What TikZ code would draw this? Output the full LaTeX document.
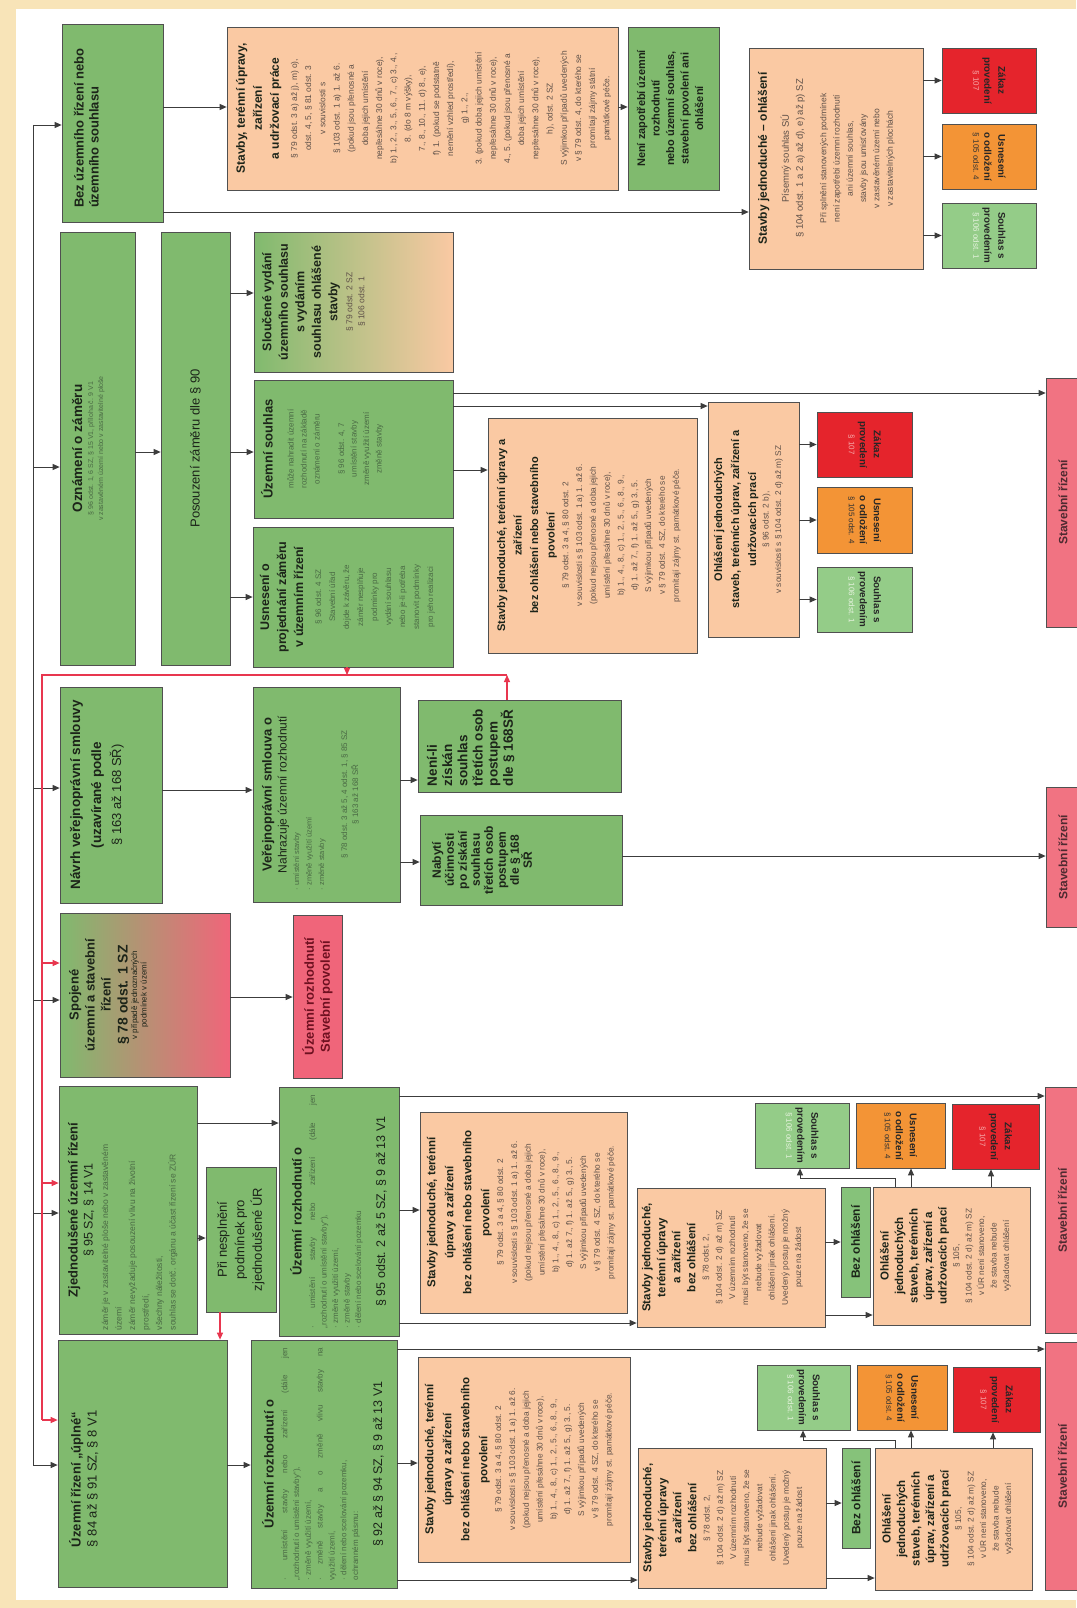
\documentclass[tikz,border=0pt]{standalone}
\usepackage{fontspec}
\setmainfont{Liberation Sans}
\usetikzlibrary{arrows.meta}

\definecolor{pagebg}{HTML}{F8E4B8}
\definecolor{grnfill}{HTML}{80BA6E}
\definecolor{bzofill}{HTML}{86C27A}
\definecolor{ornfill}{HTML}{FAC9A3}
\definecolor{pnkfill}{HTML}{F17382}
\definecolor{urpfill}{HTML}{F0657A}
\definecolor{zakfill}{HTML}{E5242C}
\definecolor{usxfill}{HTML}{F39436}
\definecolor{soufill}{HTML}{94CC88}
\definecolor{yelmid}{HTML}{E2E37E}
\definecolor{orgmid}{HTML}{EDE36A}
\definecolor{bxline}{HTML}{505050}
\definecolor{lnc}{HTML}{3C3C3C}
\definecolor{rdln}{HTML}{E8364F}
\definecolor{hdc}{HTML}{1C2419}
\definecolor{gtx}{HTML}{4A6A44}
\definecolor{otx}{HTML}{5E5048}
\definecolor{ptx}{HTML}{6E1020}
\definecolor{srtx}{HTML}{4E2A30}
\definecolor{zakref}{HTML}{F6A9A9}
\definecolor{souref}{HTML}{E6F3DE}

\newcommand\jst{\leftskip=4pt\rightskip=4pt\parfillskip=0pt plus 1fil\relax}

% one box: [valign]{style}{name}{x0}{y0}{x1}{y1}{text}, page pixels, y down
\newcommand\flbox[8][t]{%
  \node[#2, minimum width={(#7-#5)*1pt}, minimum height={(#6-#4)*1pt}]
    (#3) at ({(#4+#6)/2},{(#5+#7)/2})
    {\begin{minipage}[c][\dimexpr#6pt-#4pt-6pt\relax][#1]{\dimexpr#7pt-#5pt-8pt\relax}%
      \centering\color{hdc}#8\par\end{minipage}};}

% texts that repeat
\newcommand\sjbody{{\fontsize{8.3}{13.8}\selectfont\color{otx}
  § 79 odst. 3 a 4, § 80 odst. 2\\v souvislosti s § 103 odst. 1 a) 1. až 6.\\
  (pokud nejsou přenosné a doba jejich\\umístění přesáhne 30 dnů v roce),\\
  b) 1., 4., 8., c) 1., 2., 5., 6., 8., 9.,\\d) 1. až 7., f) 1. až 5., g) 3., 5.\\
  S výjimkou případů uvedených\\v § 79 odst. 4 SZ, do kterého se\\
  promítají zájmy st. památkové péče.\par}}
\newcommand\sjlow{\vspace*{4pt}{\fontsize{11.5}{18}\selectfont\bfseries
  Stavby jednoduché, terénní\\úpravy a zařízení\\bez ohlášení nebo stavebního\\povolení\par}\sjbody}
\newcommand\sbtext{\vspace*{2pt}{\fontsize{11.5}{15}\selectfont\bfseries
  Stavby jednoduché,\\terénní úpravy\\a zařízení\\bez ohlášení\par}
  {\fontsize{8.3}{13.2}\selectfont\color{otx} § 78 odst. 2,\\§ 104 odst. 2 d) až m) SZ\\
  V územním rozhodnutí\\musí být stanoveno, že se\\nebude vyžadovat\\
  ohlášení jinak ohlášení.\\Uvedený postup je možný\\pouze na žádost\par}}
\newcommand\ohtext{\vspace*{4pt}{\fontsize{11.5}{14.5}\selectfont\bfseries
  Ohlášení\\jednoduchých\\staveb, terénních\\úprav, zařízení a\\udržovacích prací\par}
  {\fontsize{8.3}{12.5}\selectfont\color{otx} § 105,\\§ 104 odst. 2 d) až m) SZ\\
  v ÚR není stanoveno,\\že stavba nebude\\vyžadovat ohlášení\par}}
\newcommand\zaktext{{\fontsize{9.8}{14}\selectfont\bfseries\color{black!85} Zákaz\\provedení\par}
  {\fontsize{8}{11}\selectfont\color{zakref} § 107\par}}
\newcommand\usxtext{{\fontsize{9.8}{14}\selectfont\bfseries\color{black!85} Usnesení\\o odložení\par}
  {\fontsize{8}{11}\selectfont\color{black!80} § 105 odst. 4\par}}
\newcommand\soutext{{\fontsize{9.8}{14}\selectfont\bfseries\color{black!85} Souhlas s\\provedením\par}
  {\fontsize{8}{11}\selectfont\color{souref} § 106 odst. 1\par}}
\newcommand\srtext{\fontsize{12}{14}\selectfont\bfseries\color{srtx} Stavební řízení}

\begin{document}
\begin{tikzpicture}[x=1pt,y=-1pt,
  bx/.style={draw=bxline,line width=0.7pt,inner sep=0pt,rotate=90},
  grn/.style={bx,fill=grnfill},
  bzo/.style={bx,fill=bzofill},
  orn/.style={bx,fill=ornfill},
  pnk/.style={bx,fill=pnkfill},
  urp/.style={bx,fill=urpfill},
  slos/.style={bx,left color=grnfill,middle color=yelmid,right color=ornfill},
  spos/.style={bx,left color=grnfill,middle color=orgmid,right color=urpfill},
  flip/.style={draw=bxline,line width=0.7pt,inner sep=0pt,rotate=-90},
  zak/.style={flip,fill=zakfill},
  usx/.style={flip,fill=usxfill},
  sou/.style={flip,fill=soufill},
  ln/.style={draw=lnc,line width=0.9pt},
  arr/.style={ln,-{Triangle[length=7pt,width=6pt]}},
  rdl/.style={draw=rdln,line width=1.1pt},
  rarr/.style={rdl,-{Triangle[length=7pt,width=6pt]}}]

  \useasboundingbox (0,0) rectangle (1076,1608);
  \fill[pagebg] (0,0) rectangle (1076,1608);
  \fill[white] (16,9) rectangle (1076,1600);

  % ---------------- first column
  \flbox{grn}{bez}{62}{24}{163}{222}{\raggedright\leftskip=10pt\vspace*{9pt}%
    \fontsize{13}{15}\selectfont\bfseries Bez územního řízení nebo\\územního souhlasu}
  \flbox{grn}{ozn}{60}{232}{135}{665}{\vspace*{9pt}%
    {\fontsize{13.5}{16}\selectfont\bfseries Oznámení o záměru\par}\vspace{1pt}%
    {\fontsize{7}{10}\selectfont\color{gtx} § 96 odst. 1, 6 SZ, § 15 V1, příloha č. 9 V1\\
     v zastavěném území nebo v zastavitelné ploše\par}}
  \flbox{grn}{nav}{60}{687}{162}{903}{\vspace*{7pt}%
    {\fontsize{13.5}{21}\selectfont\bfseries Návrh veřejnoprávní smlouvy\\(uzavírané podle\par}
    {\fontsize{13}{20}\selectfont § 163 až 168 SŘ)\par}}
  \flbox{spos}{spo}{60}{913}{230}{1077}{\vspace*{6pt}%
    {\fontsize{13}{16}\selectfont\bfseries Spojené\\územní a stavební\\řízení\par}
    {\fontsize{14}{17}\selectfont\bfseries § 78 odst. 1 SZ\par}
    {\fontsize{8}{9.5}\selectfont v případě jednoznačných\\podmínek v území\par}}
  \flbox{grn}{zjd}{59}{1086}{197}{1334}{\vspace*{6pt}%
    {\fontsize{13}{16}\selectfont\bfseries Zjednodušené územní řízení\par}
    {\fontsize{12.5}{15}\selectfont § 95 SZ, § 14 V1\par}\vspace{2pt}
    {\fontsize{8.5}{13.5}\selectfont\color{gtx}\raggedright
     záměr je v zastavitelné ploše nebo v zastavěném\\území\\
     záměr nevyžaduje posouzení vlivu na životní\\prostředí,\\
     všechny náležitosti,\\souhlas se dotč. orgánu a účast řízení se ZÚR\par}}
  \flbox{grn}{urz}{58}{1340}{227}{1587}{\raggedright\leftskip=36pt\vspace*{8pt}%
    {\fontsize{13}{16}\selectfont\bfseries Územní řízení „úplné“\par}
    {\fontsize{13}{16}\selectfont § 84 až § 91 SZ, § 8 V1\par}}

  % ---------------- second column
  \flbox[c]{grn}{pos}{161}{232}{230}{665}{\fontsize{13}{16}\selectfont Posouzení záměru dle § 90}
  \flbox[c]{grn}{pri}{206}{1167}{276}{1312}{\fontsize{13}{17.5}\selectfont
    Při nesplnění\\podmínek pro\\zjednodušené ÚR}
  \flbox{orn}{sta}{227}{27}{618}{190}{\vspace*{6pt}%
    {\fontsize{12}{17}\selectfont\bfseries Stavby, terénní úpravy,\\zařízení\\a udržovací práce\par}\vspace{4pt}
    {\fontsize{8.4}{14.2}\selectfont\color{otx}
     § 79 odst. 3 a) až j), m) o),\\odst. 4, 5, § 81 odst. 3\\v souvislosti s\\
     § 103 odst. 1 a) 1. až 6.\\(pokud jsou přenosné a\\doba jejich umístění\\
     nepřesáhne 30 dnů v roce),\\b) 1., 2., 3., 5., 6., 7., c) 3., 4.,\\
     8. (do 8 m výšky),\\7., 8., 10., 11. d) 8., e),\\f) 1. (pokud se podstatně\\
     nemění vzhled prostředí),\\g) 1., 2.,\\3. (pokud doba jejich umístění\\
     nepřesáhne 30 dnů v roce),\\4., 5. (pokud jsou přenosné a\\doba jejich umístění\\
     nepřesáhne 30 dnů v roce),\\h), odst. 2 SZ\\S výjimkou případů uvedených\\
     v § 79 odst. 4, do kterého se\\promítají zájmy státní\\památkové péče.\par}}
  \flbox{slos}{slo}{254}{232}{453}{372}{\vspace*{5pt}%
    {\fontsize{12.5}{16.5}\selectfont\bfseries Sloučené vydání\\územního souhlasu\\s vydáním\\
     souhlasu ohlášené\\stavby\par}\vspace{3pt}
    {\fontsize{8.5}{12}\selectfont\color{otx} § 79 odst. 2 SZ\\§ 106 odst. 1\par}}
  \flbox{grn}{uso}{254}{380}{453}{518}{\vspace*{4pt}%
    {\fontsize{13}{16}\selectfont\bfseries Územní souhlas\par}\vspace{8pt}
    {\fontsize{8}{13}\selectfont\color{gtx} může nahradit územní\\rozhodnutí na základě\\oznámení o záměru\par}
    \vspace{12pt}
    {\fontsize{8}{12.5}\selectfont\color{gtx} § 96 odst. 4, 7\\umístění stavby\\změně využití území\\změně stavby\par}}
  \flbox{grn}{usn}{253}{527}{453}{667}{\vspace*{4pt}%
    {\fontsize{12.5}{17}\selectfont\bfseries Usnesení o\\projednání záměru\\v územním řízení\par}\vspace{4pt}
    {\fontsize{8}{14}\selectfont\color{gtx} § 96 odst. 4 SZ\\Stavební úřad\\dojde k závěru, že\\
     záměr nesplňuje\\podmínky pro\\vydání souhlasu\\nebo je-li potřeba\\stanovit podmínky\\
     pro jeho realizaci\par}}
  \flbox{grn}{vps}{253}{687}{400}{902}{\vspace*{6pt}%
    {\fontsize{13}{16}\selectfont\bfseries Veřejnoprávní smlouva o\par}
    {\fontsize{12}{15}\selectfont Nahrazuje územní rozhodnutí\par}
    {\fontsize{7.5}{12.5}\selectfont\color{gtx}\raggedright\leftskip=8pt
     · umístění stavby\\· změně využití území\\· změně stavby\par}\vspace{12pt}
    {\fontsize{8}{11}\selectfont\color{gtx} § 78 odst. 3 až 5, 4 odst. 1, § 85 SZ\\§ 163 až 168 SŘ\par}}
  \flbox[c]{urp}{urp}{293}{915}{342}{1078}{\fontsize{13}{16}\selectfont\bfseries\color{ptx}
    Územní rozhodnutí\\Stavební povolení}
  \flbox{grn}{urB}{279}{1087}{399}{1336}{\vspace*{8pt}%
    {\fontsize{13}{15}\selectfont\bfseries Územní rozhodnutí o\par}\vspace{2pt}
    {\fontsize{8}{11.5}\selectfont\color{gtx}\jst
     · umístění stavby nebo zařízení (dále jen\linebreak „rozhodnutí o umístění stavby“),\\
     · změně využití území,\\· změně stavby\\· dělení nebo scelování pozemku\par}\vspace{9pt}
    {\fontsize{12.5}{15}\selectfont § 95 odst. 2 až 5 SZ, § 9 až 13 V1\par}}
  \flbox{grn}{urA}{251}{1340}{397}{1588}{\vspace*{8pt}%
    {\fontsize{13}{15}\selectfont\bfseries Územní rozhodnutí o\par}\vspace{2pt}
    {\fontsize{8}{11.8}\selectfont\color{gtx}\jst
     · umístění stavby nebo zařízení (dále jen\linebreak „rozhodnutí o umístění stavby“),\\
     · změně využití území,\\· změně stavby a o změně vlivu stavby na\linebreak využití území,\\
     · dělení nebo scelování pozemku,\\ochranném pásmu:\par}\vspace{9pt}
    {\fontsize{12.5}{15}\selectfont § 92 až § 94 SZ, § 9 až 13 V1\par}}

  % ---------------- third column
  \flbox{grn}{nen}{418}{700}{621}{792}{\raggedright\leftskip=2pt\vspace*{6pt}%
    \fontsize{13.5}{15.2}\selectfont\bfseries Není-li\\získán\\souhlas\\třetích osob\\postupem\\dle § 168SŘ}
  \flbox{grn}{nab}{420}{815}{622}{905}{\vspace*{9pt}%
    \fontsize{12}{13}\selectfont\bfseries Nabytí\\účinnosti\\po získání\\souhlasu\\třetích osob\\postupem\\
    dle § 168\\SŘ}
  \flbox{orn}{sjm}{488}{418}{697}{653}{\vspace*{6pt}%
    {\fontsize{11}{16.5}\selectfont\bfseries Stavby jednoduché, terénní úpravy a\\zařízení\\
     bez ohlášení nebo stavebního\\povolení\par}\sjbody}
  \flbox{orn}{sjB}{420}{1112}{627}{1313}{\sjlow}
  \flbox{orn}{sjA}{418}{1357}{630}{1562}{\sjlow}
  \flbox{grn}{nez}{628}{27}{719}{190}{\vspace*{6pt}%
    \fontsize{11}{14.5}\selectfont\bfseries Není zapotřebí územní\\rozhodnutí\\nebo územní souhlas,\\
    stavební povolení ani\\ohlášení}
  \flbox{orn}{sbB}{637}{1188}{825}{1327}{\sbtext}
  \flbox{orn}{sbA}{638}{1448}{826}{1588}{\sbtext}

  % ---------------- right part
  \flbox{orn}{ohm}{708}{402}{799}{637}{\vspace*{3pt}%
    {\fontsize{11}{17}\selectfont\bfseries Ohlášení jednoduchých\\staveb, terénních úprav, zařízení a\\
     udržovacích prací\par}
    {\fontsize{8.3}{12.5}\selectfont\color{otx} § 96 odst. 2 b),\\v souvislosti s § 104 odst. 2 d) až m) SZ\par}}
  \flbox{orn}{sjo}{749}{48}{923}{269}{\vspace*{6pt}%
    {\fontsize{12}{15}\selectfont\bfseries Stavby jednoduché – ohlášení\par}\vspace{8pt}
    {\fontsize{9.5}{14}\selectfont\color{otx} Písemný souhlas SÚ\\§ 104 odst. 1 a 2 a) až d), e) až p) SZ\par}
    \vspace{10pt}
    {\fontsize{8.5}{13.3}\selectfont\color{otx} Při splnění stanovených podmínek\\
     není zapotřebí územní rozhodnutí\\ani územní souhlas,\\stavby jsou umisťovány\\
     v zastavěném území nebo\\v zastavitelných plochách\par}}
  \flbox[c]{bzo}{bezB}{841}{1187}{870}{1297}{\fontsize{12}{14}\selectfont\bfseries Bez ohlášení}
  \flbox[c]{bzo}{bezA}{842}{1448}{870}{1548}{\fontsize{12}{14}\selectfont\bfseries Bez ohlášení}
  \flbox{orn}{ohB}{873}{1187}{1030}{1325}{\ohtext}
  \flbox{orn}{ohA}{875}{1448}{1032}{1590}{\ohtext}

  % small result boxes
  \flbox[c]{zak}{zak1}{942}{48}{1036}{113}{\zaktext}
  \flbox[c]{usx}{usx1}{942}{124}{1036}{189}{\usxtext}
  \flbox[c]{sou}{sou1}{942}{203}{1036}{268}{\soutext}
  \flbox[c]{zak}{zak2}{817}{412}{912}{477}{\zaktext}
  \flbox[c]{usx}{usx2}{817}{487}{912}{553}{\usxtext}
  \flbox[c]{sou}{sou2}{817}{567}{912}{632}{\soutext}
  \flbox[c]{sou}{sou3}{755}{1103}{849}{1168}{\soutext}
  \flbox[c]{usx}{usx3}{856}{1103}{945}{1168}{\usxtext}
  \flbox[c]{zak}{zak3}{952}{1104}{1039}{1169}{\zaktext}
  \flbox[c]{sou}{sou4}{757}{1365}{850}{1430}{\soutext}
  \flbox[c]{usx}{usx4}{857}{1365}{947}{1430}{\usxtext}
  \flbox[c]{zak}{zak4}{953}{1367}{1040}{1432}{\zaktext}

  % Stavebni rizeni
  \flbox[c]{pnk}{sr1}{1046}{378}{1080}{627}{\srtext}
  \flbox[c]{pnk}{sr2}{1046}{787}{1080}{927}{\srtext}
  \flbox[c]{pnk}{sr3}{1045}{1087}{1080}{1333}{\srtext}
  \flbox[c]{pnk}{sr4}{1045}{1342}{1080}{1590}{\srtext}

  % ---------------- connectors
  % black bus on the left
  \coordinate (busT) at (33,125);
  \coordinate (busB) at (33,1465);
  \draw[ln] (busT) -- (busB);
  \draw[arr] (busT) -- (bez.north |- busT);
  \draw[arr] (busT |- 0,467) -- (ozn.north |- 0,467);
  \draw[arr] (busT |- 0,788) -- (nav.north |- 0,788);
  \draw[arr] (busT |- 0,1000) -- (spo.north |- 0,1000);
  \draw[arr] (busT |- 0,1213) -- (zjd.north |- 0,1213);
  \draw[arr] (busB) -- (urz.north |- busB);

  % top row
  \draw[arr] (bez.south |- 0,107) -- (sta.north |- 0,107);
  \draw[arr] (sta.south |- 0,107) -- (nez.north |- 0,107);
  \draw[arr] (bez.south |- 0,212) -- (sjo.north |- 0,212);
  \foreach \b in {zak1,usx1,sou1}
    \draw[arr] (sjo.south |- \b) -- (\b.south);

  % oznameni o zameru
  \draw[arr] (ozn.south |- 0,452) -- (pos.north |- 0,452);
  \draw[arr] (pos.south |- 0,293) -- (slo.north |- 0,293);
  \draw[arr] (pos.south |- 0,452) -- (uso.north |- 0,452);
  \draw[arr] (pos.south |- 0,597) -- (usn.north |- 0,597);
  \draw[arr] (uso.south |- 0,393) -- (sr1.north |- 0,393);
  \draw[arr] (uso.south |- 0,406) -- (ohm.north |- 0,406);
  \draw[arr] (uso.south |- 0,470) -- (sjm.north |- 0,470);
  \foreach \b in {zak2,usx2,sou2}
    \draw[arr] (ohm.south |- \b) -- (\b.south);

  % verejnopravni smlouva
  \draw[arr] (nav.south |- 0,790) -- (vps.north |- 0,790);
  \draw[arr] (vps.south |- 0,780) -- (nen.north |- 0,780);
  \draw[arr] (vps.south |- 0,862) -- (nab.north |- 0,862);
  \draw[arr] (nab.south |- 0,856) -- (sr2.north |- 0,856);

  % spojene rizeni
  \draw[arr] (spo.south |- 0,997) -- (urp.north |- 0,997);

  % zjednodusene rizeni
  \draw[arr] (zjd.south |- 0,1123) -- (urB.north |- 0,1123);
  \draw[arr] (zjd.south |- 0,1238) -- (pri.north |- 0,1238);
  \draw[arr] (urB.south |- 0,1096) -- (sr3.north |- 0,1096);
  \draw[arr] (urB.south |- 0,1210) -- (sjB.north |- 0,1210);
  \draw[arr] (urB.south |- 0,1323) -- (sbB.north |- 0,1323);
  \draw[arr] (sbB.south |- 0,1242) -- (bezB.north |- 0,1242);
  \draw[arr] (sbB.south |- 0,1315) -- (ohB.north |- 0,1315);
  \draw[arr] (ohB.east -| 911,0) -- (usx3.east -| 911,0);
  \draw[arr] (ohB.east -| 991,0) -- (zak3.east -| 991,0);
  \draw[arr] (ohB.east -| 895,0) |- (800,1178) -- (sou3.east -| 800,0);

  % uplne rizeni
  \draw[arr] (urz.south |- 0,1465) -- (urA.north |- 0,1465);
  \draw[arr] (urA.south |- 0,1349) -- (sr4.north |- 0,1349);
  \draw[arr] (urA.south |- 0,1463) -- (sjA.north |- 0,1463);
  \draw[arr] (urA.south |- 0,1580) -- (sbA.north |- 0,1580);
  \draw[arr] (sbA.south |- 0,1503) -- (bezA.north |- 0,1503);
  \draw[arr] (sbA.south |- 0,1578) -- (ohA.north |- 0,1578);
  \draw[arr] (ohA.east -| 911,0) -- (usx4.east -| 911,0);
  \draw[arr] (ohA.east -| 993,0) -- (zak4.east -| 993,0);
  \draw[arr] (ohA.east -| 895,0) |- (803,1440) -- (sou4.east -| 803,0);

  % red bus: back to the full procedure
  \coordinate (redT) at (42,675);
  \coordinate (redB) at (42,1420);
  \coordinate (redU) at (347,675);
  \coordinate (redR) at (507,675);
  \draw[rarr] (nen.east -| redR) -- (redR);
  \draw[rdl] (redR) -- (redT) -- (redB);
  \draw[rarr] (usn.west -| redU) -- (redU);
  \draw[rarr] (redT |- 0,963) -- (spo.north |- 0,963);
  \draw[rarr] (redT |- 0,1183) -- (zjd.north |- 0,1183);
  \draw[rarr] (redB) -- (urz.north |- redB);
  \draw[rarr] (pri.west -| 220,0) -- (urz.east -| 220,0);

\end{tikzpicture}
\end{document}
